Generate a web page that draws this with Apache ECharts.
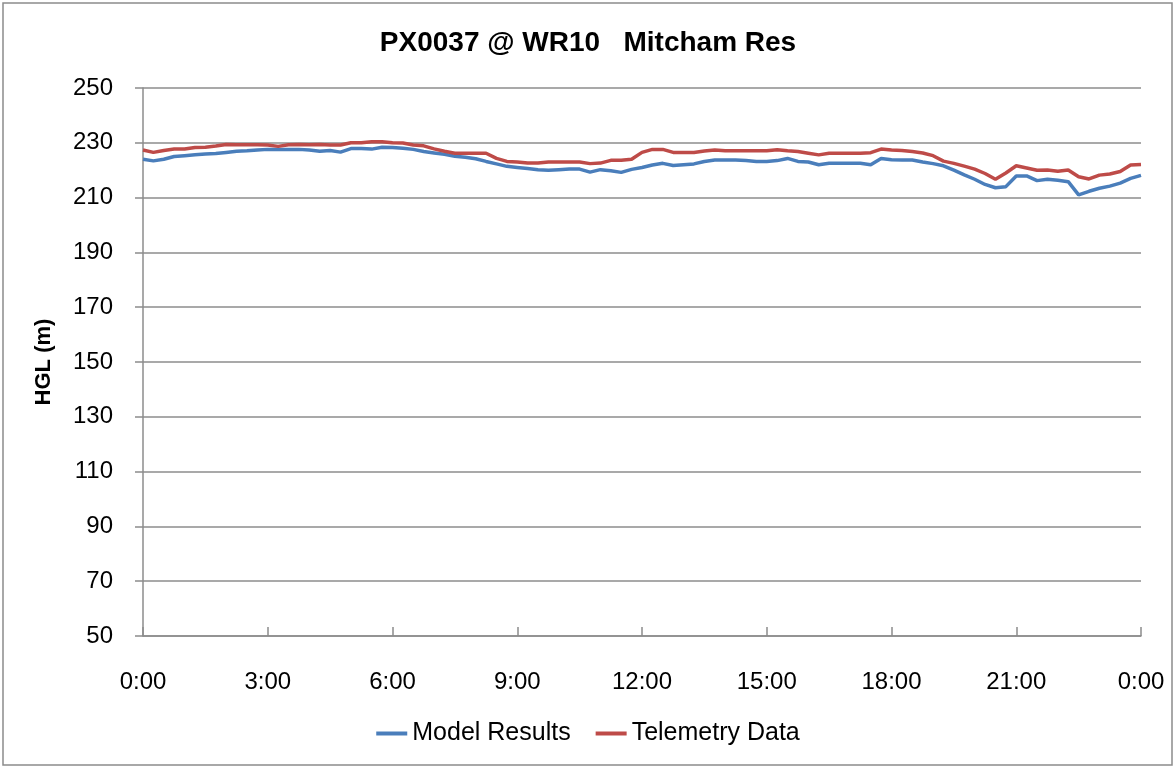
<!DOCTYPE html>
<html>
<head>
<meta charset="utf-8">
<title>PX0037 @ WR10 Mitcham Res</title>
<script src="https://cdn.jsdelivr.net/npm/echarts@6/dist/echarts.min.js"></script>
<style>
  html, body { margin: 0; padding: 0; background: #fff; }
  #chart { width: 1176px; height: 769px; }
</style>
</head>
<body>
<div id="chart"></div>
<script>
// time of day in hours, one reading every 15 min
var hours = [
  0, 0.25, 0.5, 0.75, 1, 1.25, 1.5, 1.75, 2, 2.25, 2.5, 2.75,
  3, 3.25, 3.5, 3.75, 4, 4.25, 4.5, 4.75, 5, 5.25, 5.5, 5.75,
  6, 6.25, 6.5, 6.75, 7, 7.25, 7.5, 7.75, 8, 8.25, 8.5, 8.75,
  9, 9.25, 9.5, 9.75, 10, 10.25, 10.5, 10.75, 11, 11.25, 11.5, 11.75,
  12, 12.25, 12.5, 12.75, 13, 13.25, 13.5, 13.75, 14, 14.25, 14.5, 14.75,
  15, 15.25, 15.5, 15.75, 16, 16.25, 16.5, 16.75, 17, 17.25, 17.5, 17.75,
  18, 18.25, 18.5, 18.75, 19, 19.25, 19.5, 19.75, 20, 20.25, 20.5, 20.75,
  21, 21.25, 21.5, 21.75, 22, 22.25, 22.5, 22.75, 23, 23.25, 23.5, 23.75,
  24
]

var modelResults = [
  224.0, 223.4, 224.0, 225.0, 225.3, 225.6, 225.9, 226.1, 226.5, 226.9, 227.1, 227.4,
  227.6, 227.6, 227.6, 227.6, 227.4, 226.9, 227.2, 226.6, 227.9, 227.9, 227.7, 228.4,
  228.3, 228.0, 227.6, 226.8, 226.3, 225.8, 225.1, 224.7, 224.2, 223.2, 222.3, 221.4,
  221.0, 220.6, 220.2, 220.0, 220.2, 220.4, 220.4, 219.3, 220.2, 219.8, 219.2, 220.3,
  221.0, 221.9, 222.5, 221.7, 222.0, 222.3, 223.2, 223.7, 223.7, 223.7, 223.5, 223.2,
  223.2, 223.5, 224.3, 223.2, 223.0, 222.0, 222.5, 222.5, 222.5, 222.5, 222.0, 224.3,
  223.8, 223.7, 223.7, 223.0, 222.4, 221.6, 220.0, 218.3, 216.7, 214.8, 213.6, 214.0,
  217.9, 217.9, 216.2, 216.7, 216.3, 215.8, 211.0, 212.3, 213.4, 214.2, 215.3, 217.0,
  218.1
]

var telemetryData = [
  227.4, 226.5, 227.2, 227.7, 227.7, 228.3, 228.4, 228.8, 229.4, 229.3, 229.3, 229.3,
  229.2, 228.7, 229.3, 229.4, 229.3, 229.4, 229.2, 229.2, 230.0, 230.0, 230.4, 230.4,
  230.0, 229.9, 229.2, 228.9, 227.8, 226.9, 226.2, 226.2, 226.2, 226.2, 224.3, 223.2,
  223.0, 222.6, 222.6, 223.0, 223.0, 223.0, 223.0, 222.4, 222.6, 223.6, 223.6, 224.0,
  226.5, 227.6, 227.6, 226.5, 226.5, 226.5, 227.0, 227.4, 227.1, 227.1, 227.1, 227.1,
  227.1, 227.5, 227.1, 226.8, 226.2, 225.6, 226.2, 226.2, 226.2, 226.2, 226.4, 227.7,
  227.4, 227.2, 226.8, 226.3, 225.3, 223.3, 222.5, 221.5, 220.4, 218.8, 216.7, 219.0,
  221.6, 220.8, 220.0, 220.1, 219.6, 220.1, 217.6, 216.8, 218.2, 218.6, 219.5, 221.9,
  222.1
]

function pairs(ys) {
  return hours.map(function(h, i) { return [h, ys[i]] })
}

var font = 'Liberation Sans'
var chart = echarts.init(document.getElementById('chart'))
chart.setOption({
  animation: false,
  backgroundColor: '#fff',
  textStyle: { fontFamily: font },
  title: {
    text: 'PX0037 @ WR10   Mitcham Res',
    left: 'center',
    top: 24,
    textStyle: { fontFamily: font, fontSize: 28, fontWeight: 'bold', color: '#000' }
  },
  graphic: [{
    type: 'rect',
    shape: { x: 3, y: 3, width: 1169, height: 762 },
    style: { fill: 'none', stroke: '#8c8c8c', lineWidth: 1.5 },
    silent: true
  }],
  legend: {
    bottom: 18,
    left: 'center',
    itemWidth: 31,
    itemHeight: 4,
    itemGap: 25,
    icon: 'rect',
    textStyle: { fontFamily: font, fontSize: 25, color: '#000' },
    data: ['Model Results', 'Telemetry Data']
  },
  grid: { left: 143, right: 35, top: 88, bottom: 133 },
  xAxis: {
    type: 'value',
    min: 0,
    max: 24,
    interval: 3,
    axisLine: { lineStyle: { color: '#8c8c8c', width: 1.5 } },
    axisTick: { inside: true, length: 9, lineStyle: { color: '#8c8c8c', width: 1.5 } },
    axisLabel: {
      margin: 34,
      fontSize: 24,
      color: '#000',
      formatter: function(v) { return (v % 24) + ':00' }
    },
    splitLine: { show: false }
  },
  yAxis: {
    type: 'value',
    min: 50,
    max: 250,
    interval: 20,
    name: 'HGL (m)',
    nameLocation: 'middle',
    nameGap: 88,
    nameTextStyle: { fontFamily: font, fontSize: 22, fontWeight: 'bold', color: '#000' },
    axisLine: { show: true, lineStyle: { color: '#8c8c8c', width: 1.5 } },
    axisTick: { show: true, length: 8, lineStyle: { color: '#8c8c8c', width: 1.5 } },
    axisLabel: { margin: 30, fontSize: 24, color: '#000' },
    splitLine: { lineStyle: { color: '#8c8c8c', width: 1.5 } }
  },
  series: [
    {
      name: 'Model Results',
      type: 'line',
      showSymbol: false,
      color: '#4a7ebb',
      lineStyle: { width: 3.5, color: '#4a7ebb' },
      data: pairs(modelResults)
    },
    {
      name: 'Telemetry Data',
      type: 'line',
      showSymbol: false,
      color: '#be4b48',
      lineStyle: { width: 3.5, color: '#be4b48' },
      data: pairs(telemetryData)
    }
  ]
})
</script>
</body>
</html>
